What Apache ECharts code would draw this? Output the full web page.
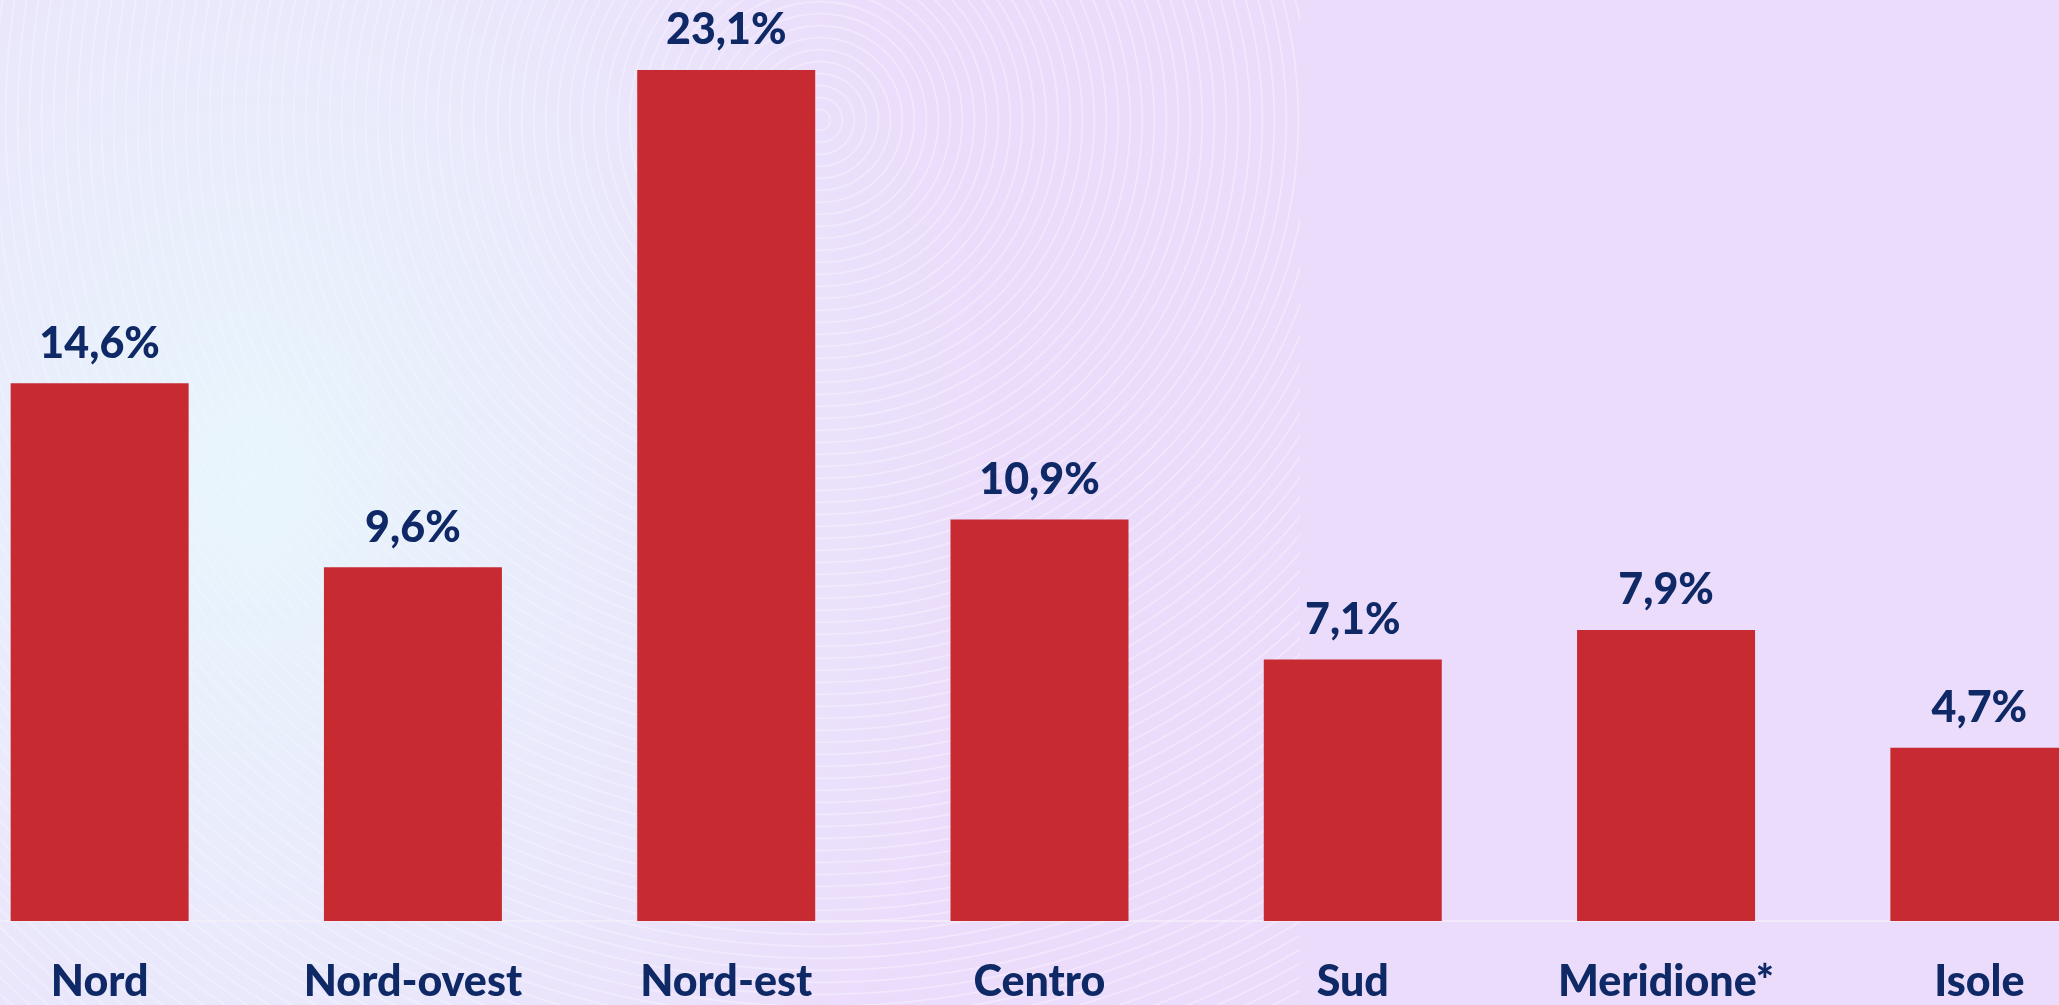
<!DOCTYPE html>
<html>
<head>
<meta charset="utf-8">
<script src="https://cdn.jsdelivr.net/npm/echarts@6/dist/echarts.min.js"></script>
<style>
  html, body { margin: 0; padding: 0; }
  body {
    width: 2059px; height: 1005px; overflow: hidden;
    background-color: #ebdcfb;
    background-image:
      radial-gradient(ellipse 750px 950px at 250px 480px, rgba(232,250,252,0.85), rgba(232,250,252,0) 100%),
      repeating-radial-gradient(circle at 820px 120px, rgba(255,255,255,0) 0px, rgba(255,255,255,0) 9px, rgba(255,255,255,0.4) 10px, rgba(255,255,255,0) 12px);
    background-size: 100% 100%, 1300px 100%;
    background-repeat: no-repeat;
  }
  #chart { width: 2059px; height: 1005px; }
</style>
</head>
<body>
<div id="chart"></div>
<script>
// regions and share values (%)
const categories = ['Nord', 'Nord-ovest', 'Nord-est', 'Centro', 'Sud', 'Meridione*', 'Isole'];
const values = [14.6, 9.6, 23.1, 10.9, 7.1, 7.9, 4.7];

const navy = '#0f2966';

function formatPct(v) {
  return v.toFixed(1).replace('.', ',') + '%';
}

const chart = echarts.init(document.getElementById('chart'));

const option = {
  backgroundColor: 'transparent',
  animation: false,
  grid: { left: -57, right: -77, top: 0, bottom: 84, containLabel: false, outerBoundsMode: 'none' },
  xAxis: {
    type: 'category',
    data: categories,
    axisTick: { show: false },
    axisLine: { show: true, lineStyle: { color: 'rgba(245,240,250,0.9)', width: 1.5 } },
    axisLabel: {
      margin: 40,
      color: navy,
      fontFamily: 'Lato',
      fontWeight: 900,
      fontSize: 43
    }
  },
  yAxis: {
    type: 'value',
    min: 0,
    max: 25,
    show: false,
    splitLine: { show: false }
  },
  series: [{
    type: 'bar',
    data: values,
    barWidth: 178,
    itemStyle: { color: '#c82a32' },
    label: {
      show: true,
      position: 'top',
      distance: 18,
      color: navy,
      fontFamily: 'Lato',
      fontWeight: 900,
      fontSize: 43,
      formatter: (p) => formatPct(p.value)
    }
  }]
};

chart.setOption(option);
</script>
</body>
</html>
